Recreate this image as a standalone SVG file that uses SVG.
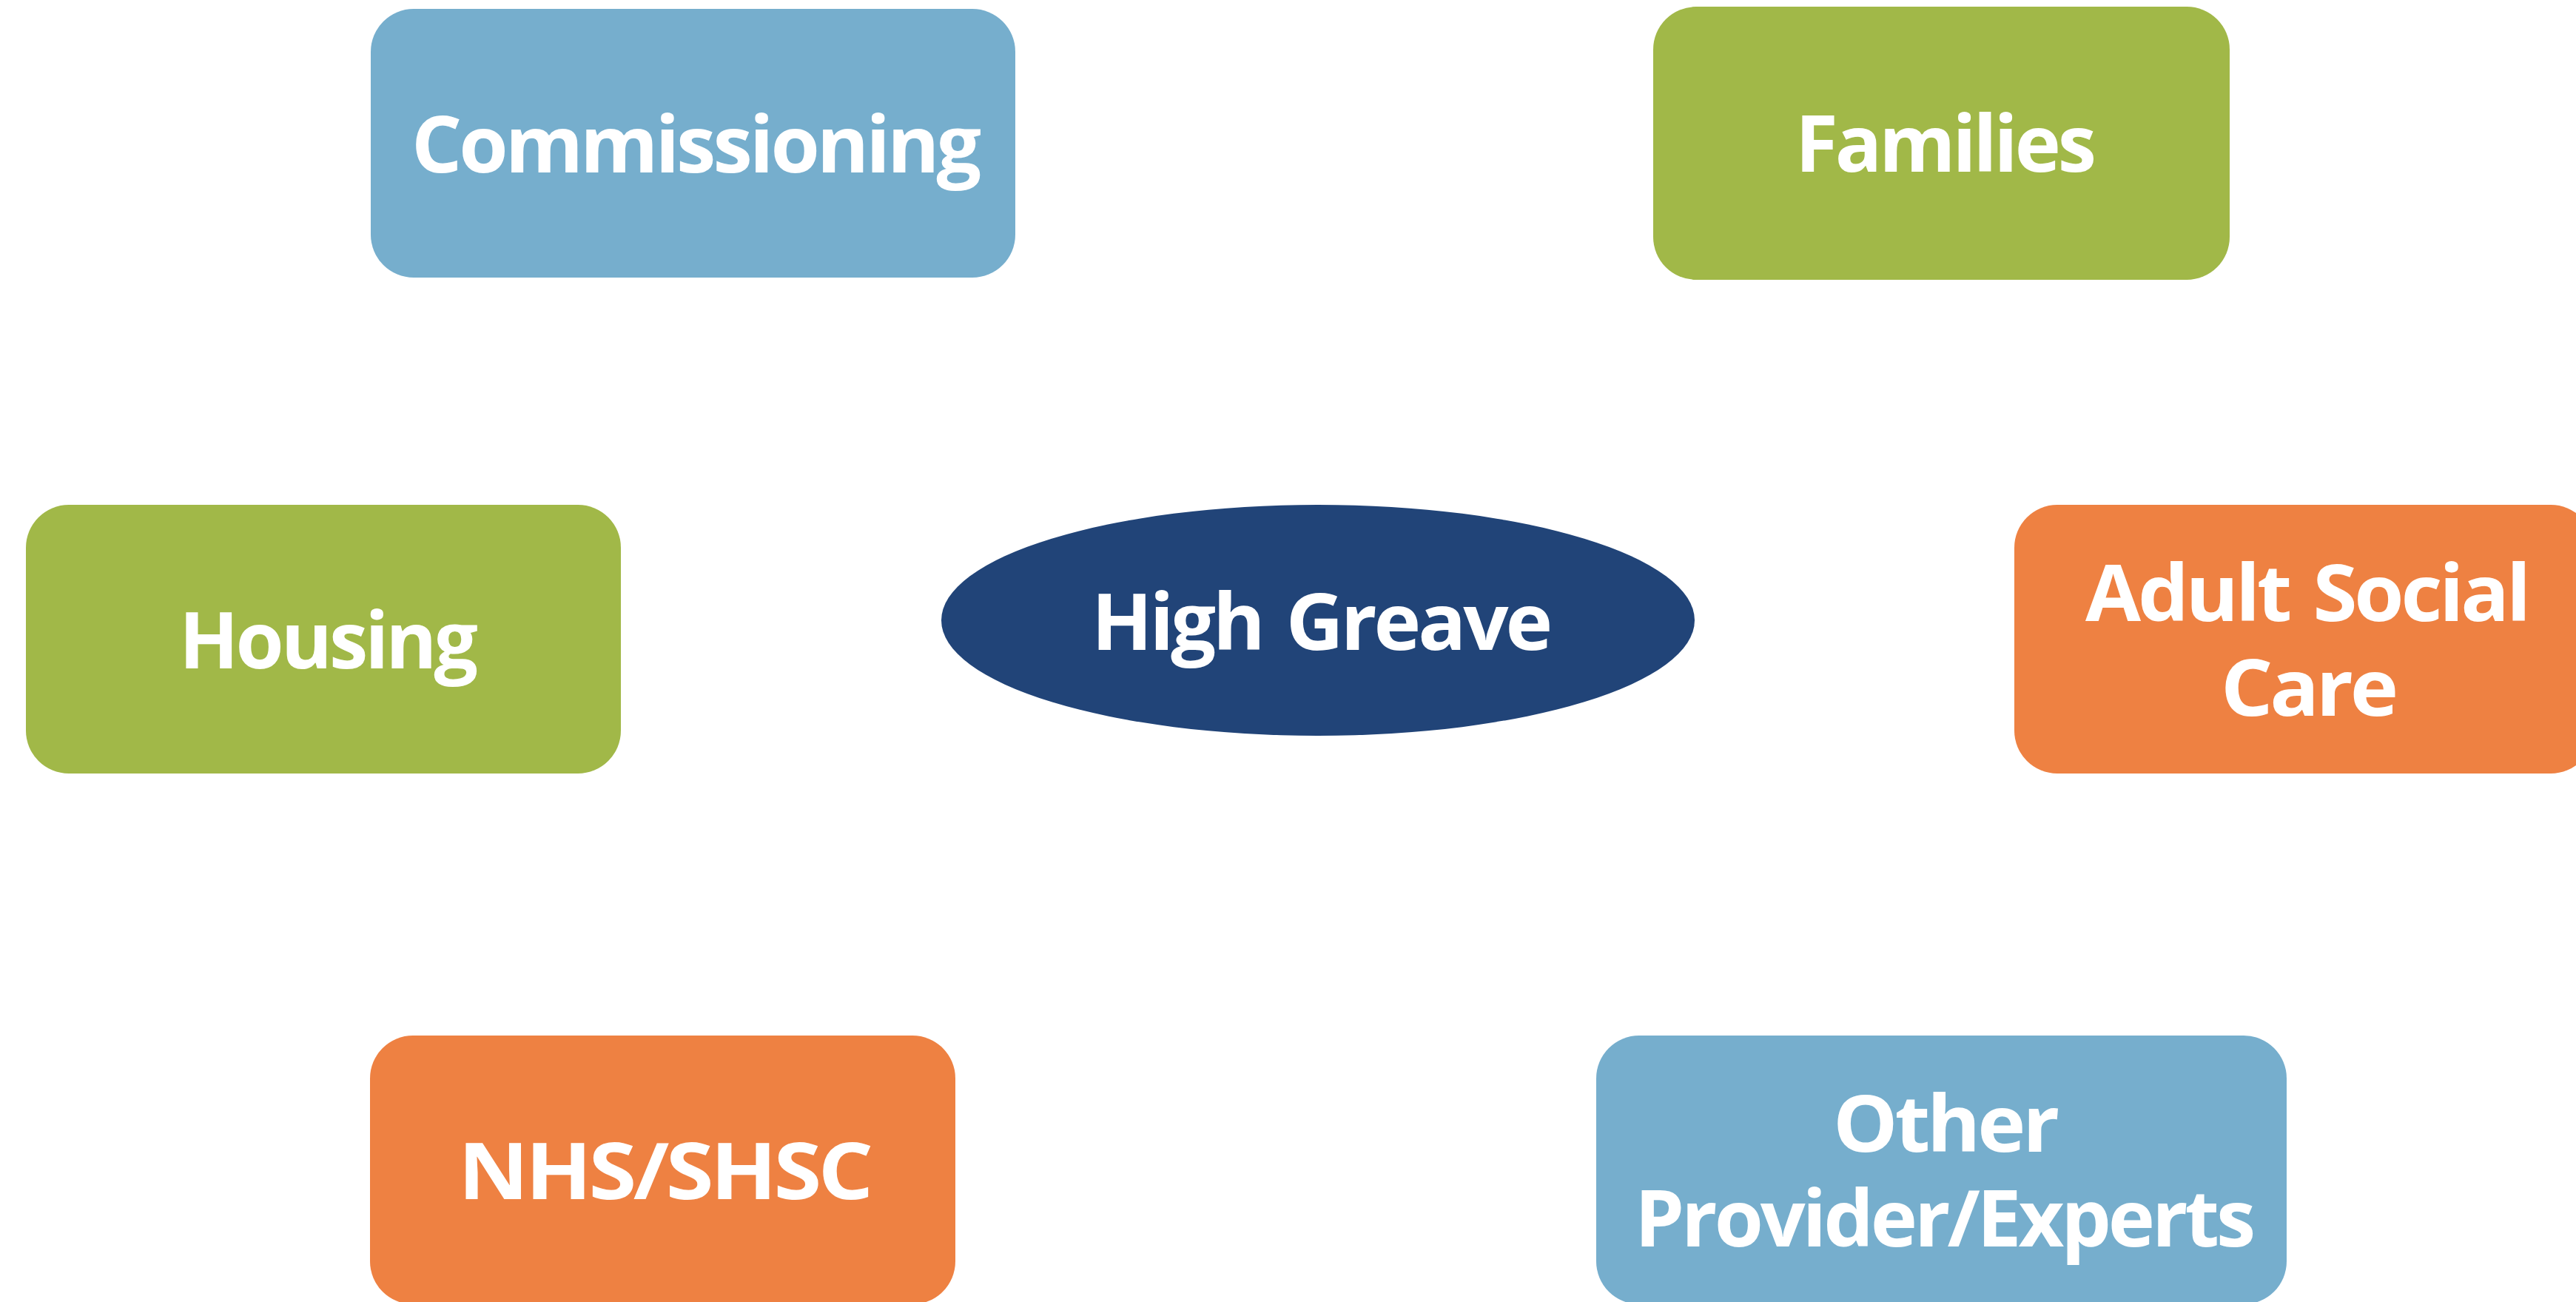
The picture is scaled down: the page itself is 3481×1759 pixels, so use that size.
<svg xmlns="http://www.w3.org/2000/svg" width="3481" height="1759" viewBox="0 0 3481 1759">
  <style>
    .box { stroke: none; }
    .blue { fill: #76AECD; }
    .green { fill: #A1B848; }
    .orange { fill: #EE8142; }
    .navy { fill: #214478; }
    .label { font-family: "Open Sans", "Noto Sans", "Liberation Sans", sans-serif; font-weight: 700; font-size: 105px; letter-spacing: -4px; word-spacing: 8px; fill: #FFFFFF; }
  </style>
  <rect width="3481" height="1759" fill="#FFFFFF"/>

  <g id="commissioning">
    <rect class="box blue" x="501" y="12" width="871" height="363" rx="58" ry="58"/>
    <text class="label" x="556" y="233" textLength="766" lengthAdjust="spacingAndGlyphs">Commissioning</text>
  </g>

  <g id="families">
    <rect class="box green" x="2234" y="9" width="779" height="369" rx="58" ry="58"/>
    <text class="label" x="2426" y="232" textLength="403" lengthAdjust="spacingAndGlyphs">Families</text>
  </g>

  <g id="housing">
    <rect class="box green" x="35" y="682" width="804" height="363" rx="58" ry="58"/>
    <text class="label" x="242" y="903" textLength="400" lengthAdjust="spacingAndGlyphs">Housing</text>
  </g>

  <g id="high-greave">
    <ellipse class="navy" cx="1781" cy="838" rx="509" ry="156"/>
    <text class="label" x="1475" y="878" textLength="619" lengthAdjust="spacingAndGlyphs">High Greave</text>
  </g>

  <g id="adult-social-care">
    <rect class="box orange" x="2722" y="682" width="783" height="363" rx="58" ry="58"/>
    <text class="label">
      <tspan x="2818" y="839" textLength="598" lengthAdjust="spacingAndGlyphs">Adult Social</tspan>
      <tspan x="3001" y="967" textLength="236" lengthAdjust="spacingAndGlyphs">Care</tspan>
    </text>
  </g>

  <g id="nhs-shsc">
    <rect class="box orange" x="500" y="1399" width="791" height="363" rx="58" ry="58"/>
    <text class="label" x="619" y="1620" textLength="557" lengthAdjust="spacingAndGlyphs">NHS/SHSC</text>
  </g>

  <g id="other-providers">
    <rect class="box blue" x="2157" y="1399" width="933" height="363" rx="58" ry="58"/>
    <text class="label">
      <tspan x="2477" y="1556" textLength="302" lengthAdjust="spacingAndGlyphs">Other</tspan>
      <tspan x="2209" y="1684" textLength="835" lengthAdjust="spacingAndGlyphs">Provider/Experts</tspan>
    </text>
  </g>
</svg>
